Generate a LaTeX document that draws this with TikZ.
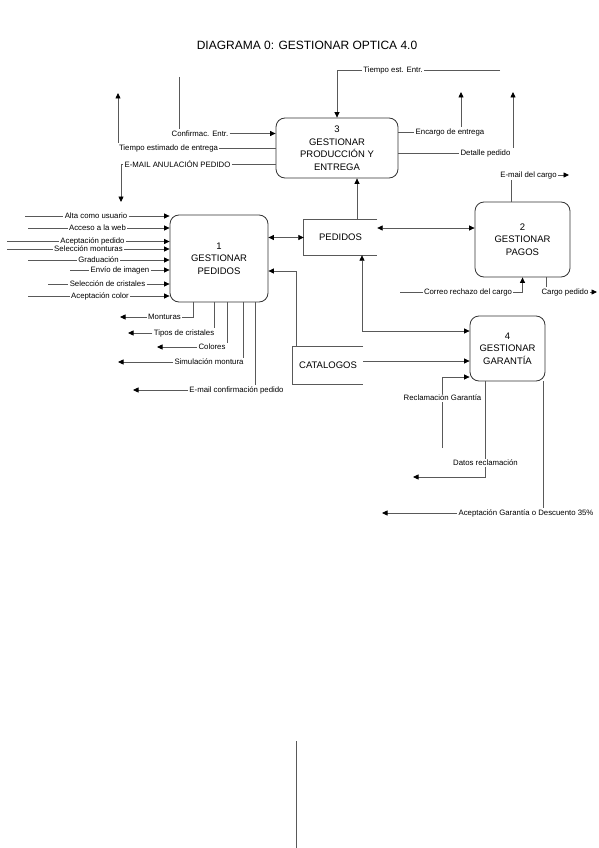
\documentclass[tikz,border=0pt]{standalone}
\usepackage{fontspec}
\setmainfont{Liberation Sans}
\usetikzlibrary{arrows.meta}
\begin{document}
\begin{tikzpicture}[x=1pt,y=-1pt,
  proc/.style={draw=black!80, line width=0.8pt, rounded corners=9pt, align=center, font=\fontsize{9.5}{12.5}\selectfont, inner sep=0pt},
  store/.style={inner sep=0pt, font=\fontsize{9.5}{12}\selectfont},
  lbl/.style={font=\fontsize{7.8}{9}\selectfont, inner sep=1.2pt},
  flow/.style={draw=black!65, line width=0.75pt},
  arr/.style={flow, -{Triangle[length=5.5pt,width=5pt,color=black]}},
  darr/.style={flow, {Triangle[length=5.5pt,width=5pt,color=black]}-{Triangle[length=5.5pt,width=5pt,color=black]}},
]
\fill[white] (0,0) rectangle (599,848);
\useasboundingbox (0,0) rectangle (599,848);

\node[font=\fontsize{12}{14}\selectfont] (title) at (307,45) {DIAGRAMA 0: GESTIONAR OPTICA 4.0};

% processes
\node[proc, minimum width=98pt, minimum height=87pt] (p1) at (219,258.5) {1\\GESTIONAR\\PEDIDOS};
\node[proc, minimum width=95pt, minimum height=75pt] (p2) at (522.5,239.5) {2\\GESTIONAR\\PAGOS};
\node[proc, minimum width=122pt, minimum height=60pt] (p3) at (337,148) {3\\GESTIONAR\\PRODUCCIÓN Y\\ENTREGA};
\node[proc, minimum width=75pt, minimum height=65pt] (p4) at (507.5,348.5) {4\\GESTIONAR\\GARANTÍA};

% stores
\node[store, minimum width=73pt, minimum height=35pt] (ped) at (340.5,237.5) {PEDIDOS};
\draw[flow] (ped.north east) -- (ped.north west) -- (ped.south west) -- (ped.south east);
\node[store, minimum width=70pt, minimum height=37pt] (cat) at (328,365.5) {CATALOGOS};
\draw[flow] (cat.north east) -- (cat.north west) -- (cat.south west) -- (cat.south east);

% store connectors
\draw[darr] (p1.east |- ped.west) -- (ped.west);
\coordinate (pu) at ([xshift=16.5pt]ped.north);
\draw[arr] (pu) -- (pu |- p3.south);
\coordinate (pe) at ([yshift=9.5pt]ped.east);
\draw[darr] (pe) -- (pe -| p2.west);
\coordinate (pd) at ([xshift=21.5pt]ped.south);
\coordinate (g4a) at ([yshift=17.5pt]p4.west);
\draw[darr] (pd) |- (g4a);
\coordinate (cu) at ([xshift=4pt]cat.north west);
\coordinate (p1r) at ([yshift=-12.5pt]p1.east);
\draw[arr] (cu) |- (p1r);
\coordinate (ce) at ([yshift=4.5pt]cat.east);
\draw[arr] (ce) -- (ce -| p4.west);

% process 3 flows
\node[lbl] (lTE) at (393,70) {Tiempo est. Entr.};
\coordinate (te0) at (500,70);
\draw[flow] (te0) -- (lTE.east);
\draw[arr] (lTE.west) -| (p3.north);

\coordinate (cf0) at (179,77);
\node[lbl] (lCF) at (200,133.5) {Confirmac. Entr.};
\draw[flow] (cf0) -- (cf0 |- lCF.north);
\draw[arr] (lCF.east) -- (lCF.east -| p3.west);

\node[lbl] (lTEE) at (168.5,148) {Tiempo estimado de entrega};
\draw[flow] (lTEE.east) -- (lTEE.east -| p3.west);
\coordinate (tu) at (118,93);
\draw[arr] (tu |- lTEE.north) -- (tu);

\node[lbl] (lEA) at (177.5,164) {E-MAIL ANULACIÓN PEDIDO};
\draw[flow] (lEA.east) -- (lEA.east -| p3.west);
\coordinate (ea) at (121,202);
\draw[arr] (lEA.west) -| (ea);

\node[lbl] (lEN) at (450,132) {Encargo de entrega};
\draw[flow] (lEN.west -| p3.east) -- (lEN.west);
\coordinate (eu) at (461,92);
\draw[arr] (eu |- lEN.north) -- (eu);

\node[lbl] (lDP) at (485.5,153) {Detalle pedido};
\draw[flow] (lDP.west -| p3.east) -- (lDP.west);
\coordinate (du) at (513,92);
\draw[arr] (du |- lDP.north) -- (du);

% process 2 flows
\node[lbl] (lEC) at (528.5,175) {E-mail del cargo};
\coordinate (ec) at (569,175);
\draw[arr] (lEC.east) -- (ec);
\coordinate (p2n) at ([xshift=-11.5pt]p2.north);
\draw[flow] (p2n) -- (p2n |- lEC.south);

\node[lbl] (lCR) at (468,292) {Correo rechazo del cargo};
\coordinate (cr) at (400,292);
\draw[flow] (cr) -- (lCR.west);
\draw[arr] (lCR.east) -| (p2.south);

\node[lbl] (lCP) at (565,292) {Cargo pedido};
\coordinate (cp) at (597,292);
\draw[arr] (lCP.east) -- (cp);
\coordinate (p2s) at ([xshift=23.5pt]p2.south);
\draw[flow] (p2s) -- (p2s |- lCP.north);

% process 4 flows
\node[lbl] (lRG) at (442.5,398) {Reclamación Garantía};
\coordinate (rg) at (442,448);
\draw[flow] (rg) -- (rg |- lRG.south);
\coordinate (p4w) at ([yshift=-28.5pt]p4.west);
\draw[arr] (rg |- lRG.north) |- (p4w);

\coordinate (p4sa) at ([xshift=-22.5pt]p4.south);
\node[lbl] (lDR) at (485.5,463) {Datos reclamación};
\draw[flow] (p4sa) -- (p4sa |- lDR.north);
\coordinate (dr) at (413,477);
\draw[arr] (p4sa |- lDR.south) |- (dr);

\coordinate (p4sb) at ([xshift=35.5pt]p4.south);
\node[lbl] (lAG) at (526,513) {Aceptación Garantía o Descuento 35\%};
\draw[flow] (p4sb) -- (p4sb |- lAG.north);
\coordinate (ag) at (382,513);
\draw[arr] (lAG.west) -- (ag);

% process 1 inputs
\node[lbl] (i1) at (96,216) {Alta como usuario};
\coordinate (s1) at (25,216);
\draw[flow] (s1) -- (i1.west);
\draw[arr] (i1.east) -- (i1.east -| p1.west);

\node[lbl] (i2) at (97.5,228) {Acceso a la web};
\coordinate (s2) at (28,228);
\draw[flow] (s2) -- (i2.west);
\draw[arr] (i2.east) -- (i2.east -| p1.west);

\node[lbl] (i3) at (92.5,241.5) {Aceptación pedido};
\coordinate (s3) at (7,241.5);
\draw[flow] (s3) -- (i3.west);
\draw[arr] (i3.east) -- (i3.east -| p1.west);

\node[lbl] (i4) at (88.5,249) {Selección monturas};
\coordinate (s4) at (7,249);
\draw[flow] (s4) -- (i4.west);
\draw[arr] (i4.east) -- (i4.east -| p1.west);

\node[lbl] (i5) at (98.5,260) {Graduación};
\coordinate (s5) at (28,260);
\draw[flow] (s5) -- (i5.west);
\draw[arr] (i5.east) -- (i5.east -| p1.west);

\node[lbl] (i6) at (120,270) {Envío de imagen};
\coordinate (s6) at (70,270);
\draw[flow] (s6) -- (i6.west);
\draw[arr] (i6.east) -- (i6.east -| p1.west);

\node[lbl] (i7) at (107.5,284) {Selección de cristales};
\coordinate (s7) at (48,284);
\draw[flow] (s7) -- (i7.west);
\draw[arr] (i7.east) -- (i7.east -| p1.west);

\node[lbl] (i8) at (100,296) {Aceptación color};
\coordinate (s8) at (28,296);
\draw[flow] (s8) -- (i8.west);
\draw[arr] (i8.east) -- (i8.east -| p1.west);

% process 1 outputs
\node[lbl] (o1) at (164.5,317) {Monturas};
\coordinate (b1) at ([xshift=-26pt]p1.south);
\draw[flow] (b1) |- (o1.east);
\coordinate (e1) at (120,317);
\draw[arr] (o1.west) -- (e1);

\node[lbl] (o2) at (184,333) {Tipos de cristales};
\coordinate (b2) at ([xshift=-5pt]p1.south);
\draw[flow] (b2) -- (b2 |- o2.north);
\coordinate (e2) at (128,333);
\draw[arr] (o2.west) -- (e2);

\node[lbl] (o3) at (212,347) {Colores};
\coordinate (b3) at ([xshift=8pt]p1.south);
\draw[flow] (b3) -- (b3 |- o3.north);
\coordinate (e3) at (157,347);
\draw[arr] (o3.west) -- (e3);

\node[lbl] (o4) at (209,362) {Simulación montura};
\coordinate (b4) at ([xshift=24pt]p1.south);
\draw[flow] (b4) -- (b4 |- o4.north);
\coordinate (e4) at (118,362);
\draw[arr] (o4.west) -- (e4);

\node[lbl] (o5) at (236.5,390) {E-mail confirmación pedido};
\coordinate (b5) at ([xshift=36pt]p1.south);
\draw[flow] (b5) -- (b5 |- o5.north);
\coordinate (e5) at (133,390);
\draw[arr] (o5.west) -- (e5);

% stray line at the bottom
\coordinate (v0) at (296,741);
\coordinate (v1) at (296,848);
\draw[flow] (v0) -- (v1);
\end{tikzpicture}
\end{document}
